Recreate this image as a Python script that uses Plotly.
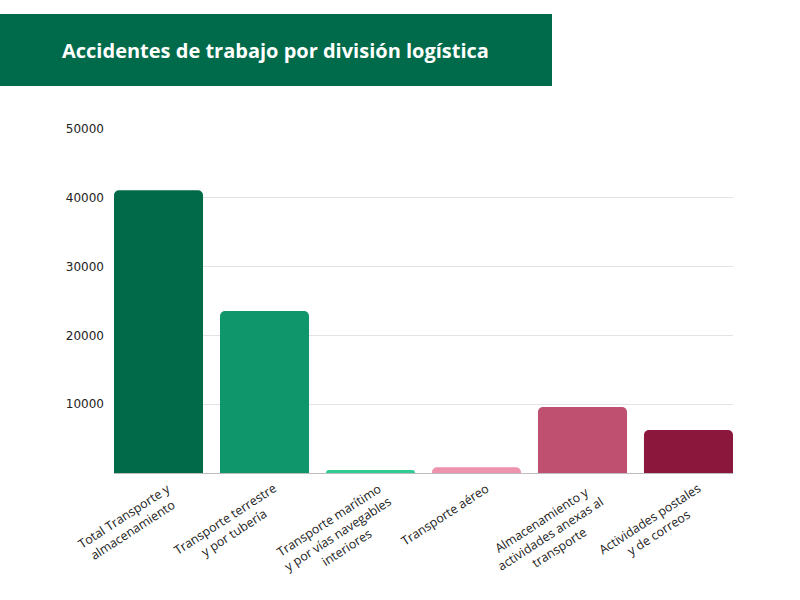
import math
import plotly.graph_objects as go

categories = [
    "Total Transporte y<br>almacenamiento",
    "Transporte terrestre<br>y por tubería",
    "Transporte marítimo<br>y por vías navegables<br>interiores",
    "Transporte aéreo",
    "Almacenamiento y<br>actividades anexas al<br>transporte",
    "Actividades postales<br>y de correos",
]
values = [41100, 23550, 450, 820, 9600, 6250]
colors = ["#016a49", "#0f966b", "#2ecc93", "#ee93ae", "#c0506f", "#8b173c"]
y_ticks = [10000, 20000, 30000, 40000, 50000]
title = "Accidentes de trabajo por división logística"

fig = go.Figure(go.Bar(x=categories, y=values, marker_color=colors, marker_line_width=0))

L, R, T, B = 114, 67, 129, 127
W, H = 800, 600
pw, ph = W - L - R, H - T - B
gap = 0.16
angle = 33
lab_size = 12.5

def px(x):
    return (x - L) / pw

def py(y):
    return (H - B - y) / ph

annotations = [dict(text="<b>" + title + "</b>", xref="paper", yref="paper",
                    x=px(60), y=py(50), xanchor="left", yanchor="middle", showarrow=False,
                    font=dict(family="Open Sans", size=20, color="white"))]

for cat in categories:
    n = cat.count("<br>") + 1
    h = n * 1.3 * lab_size
    annotations.append(dict(
        text=cat, x=cat, y=0, xref="x", yref="y", showarrow=False,
        textangle=-angle, align="center", xanchor="right", yanchor="top",
        borderpad=0, xshift=8 + h * math.sin(math.radians(angle)), yshift=-5,
        font=dict(family="Open Sans", size=lab_size, color="#222"),
    ))

fig.update_layout(
    width=W, height=H,
    margin=dict(l=L, r=R, t=T, b=B, autoexpand=False),
    paper_bgcolor="white", plot_bgcolor="white",
    bargap=gap, barcornerradius=5,
    showlegend=False,
    font=dict(family="Open Sans", size=12, color="#222"),
    xaxis=dict(showticklabels=False, showgrid=False, showline=True, linecolor="#bdbdbd",
               range=[-0.5 + gap / 2, len(categories) - 0.5 - gap / 2],
               linewidth=1, ticks=""),
    yaxis=dict(range=[0, 50000], tickvals=y_ticks, tickformat="d", showgrid=True, gridcolor="#e3e3e3",
               zeroline=False, showline=False, ticks="", ticklabelstandoff=9,
               tickfont=dict(family="DejaVu Sans", size=12, color="#222")),
    shapes=[dict(type="rect", xref="paper", yref="paper", x0=px(0), x1=px(552),
                 y0=py(86), y1=py(14), fillcolor="#006b4a", line_width=0, layer="above")],
    annotations=annotations,
)

fig.write_html("out.html", config={"displayModeBar": False},
               post_script="document.body.style.margin='0';")
